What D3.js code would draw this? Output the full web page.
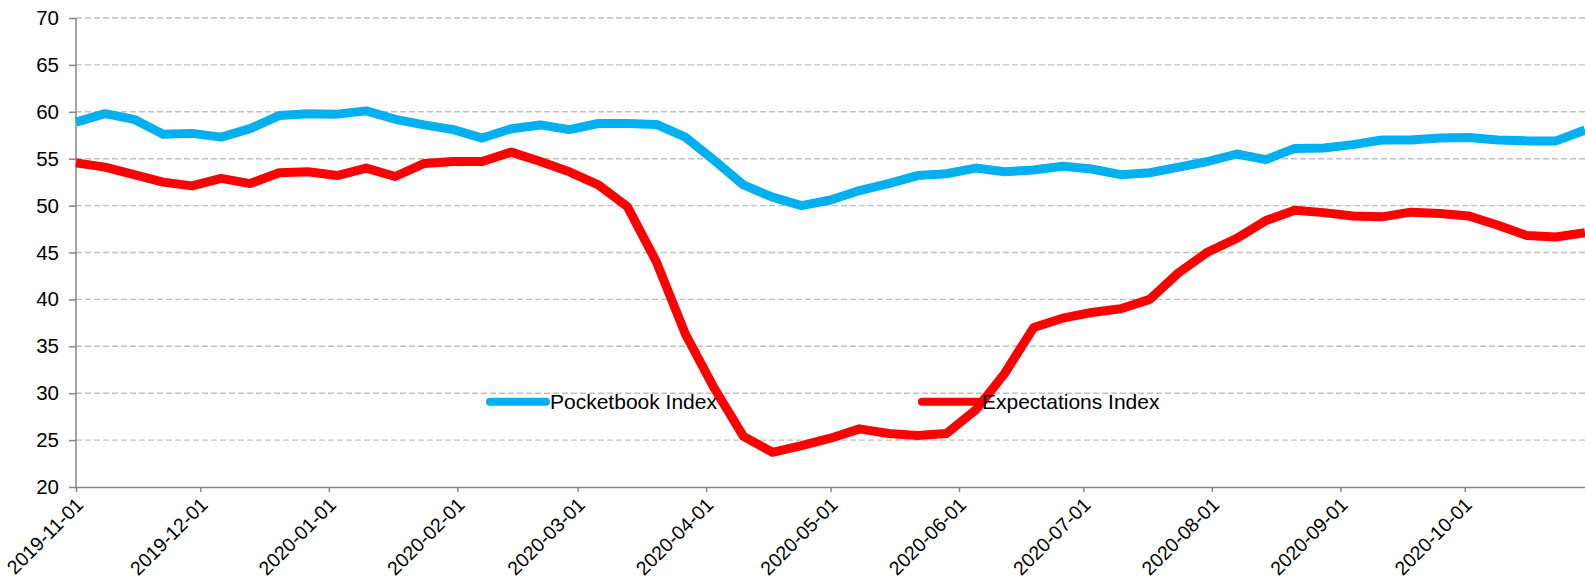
<!DOCTYPE html>
<html>
<head>
<meta charset="utf-8">
<script src="https://cdn.jsdelivr.net/npm/d3@7"></script>
<style>
  html, body { margin: 0; padding: 0; background: #fff; }
  svg { display: block; font-family: "Liberation Sans", Arial, sans-serif; }
</style>
</head>
<body>
<div id="wrapper"></div>
<script>
// weekly survey dates
const dates = [
  "2019-11-01", "2019-11-08", "2019-11-15", "2019-11-22", "2019-11-29",
  "2019-12-06", "2019-12-13", "2019-12-20", "2019-12-27",
  "2020-01-03", "2020-01-10", "2020-01-17", "2020-01-24", "2020-01-31",
  "2020-02-07", "2020-02-14", "2020-02-21", "2020-02-28",
  "2020-03-06", "2020-03-13", "2020-03-20", "2020-03-27",
  "2020-04-03", "2020-04-10", "2020-04-17", "2020-04-24",
  "2020-05-01", "2020-05-08", "2020-05-15", "2020-05-22", "2020-05-29",
  "2020-06-05", "2020-06-12", "2020-06-19", "2020-06-26",
  "2020-07-03", "2020-07-10", "2020-07-17", "2020-07-24", "2020-07-31",
  "2020-08-07", "2020-08-14", "2020-08-21", "2020-08-28",
  "2020-09-04", "2020-09-11", "2020-09-18", "2020-09-25",
  "2020-10-02", "2020-10-09", "2020-10-16", "2020-10-23", "2020-10-30",
];

const pocketbook = [
  58.9, 59.8, 59.2, 57.6, 57.7, 57.3, 58.2, 59.6, 59.8, 59.75,
  60.1, 59.2, 58.6, 58.1, 57.2, 58.2, 58.6, 58.1, 58.75, 58.75,
  58.65, 57.3, 54.8, 52.2, 50.9, 50.0, 50.6, 51.6, 52.35, 53.2,
  53.4, 54.0, 53.6, 53.8, 54.2, 53.9, 53.3, 53.5, 54.1, 54.7,
  55.5, 54.9, 56.1, 56.15, 56.5, 57.0, 57.0, 57.2, 57.25, 57.0,
  56.9, 56.9, 58.05,
];

const expectations = [
  54.55, 54.1, 53.3, 52.5, 52.1, 52.9, 52.35, 53.5, 53.6, 53.2,
  54.0, 53.1, 54.5, 54.7, 54.7, 55.7, 54.7, 53.6, 52.2, 49.9,
  44.0, 36.3, 30.5, 25.4, 23.7, 24.4, 25.2, 26.2, 25.7, 25.5,
  25.7, 28.2, 32.1, 37.0, 38.0, 38.6, 39.0, 40.0, 42.85, 45.05,
  46.5, 48.4, 49.5, 49.25, 48.9, 48.8, 49.3, 49.15, 48.9, 47.9,
  46.8, 46.65, 47.1,
];

const seriesNames = ["Pocketbook Index", "Expectations Index"];
const seriesColors = ["#00b0f0", "#ff0000"];

const xTickLabels = [
  "2019-11-01", "2019-12-01", "2020-01-01", "2020-02-01", "2020-03-01",
  "2020-04-01", "2020-05-01", "2020-06-01", "2020-07-01", "2020-08-01",
  "2020-09-01", "2020-10-01",
];
const yTicks = [20, 25, 30, 35, 40, 45, 50, 55, 60, 65, 70];

const parseDate = d3.timeParse("%Y-%m-%d");

const dimensions = {
  width: 1585,
  height: 579,
  margins: { top: 18, right: 0, bottom: 92, left: 76 },
};
dimensions.boundedWidth =
  dimensions.width - dimensions.margins.left - dimensions.margins.right;
dimensions.boundedHeight =
  dimensions.height - dimensions.margins.top - dimensions.margins.bottom;

const wrapper = d3
  .select("#wrapper")
  .append("svg")
  .attr("width", dimensions.width)
  .attr("height", dimensions.height);

const bounds = wrapper
  .append("g")
  .attr("transform", `translate(${dimensions.margins.left},${dimensions.margins.top})`);

// scales
const xScale = d3
  .scaleTime()
  .domain([parseDate(dates[0]), parseDate(dates[dates.length - 1])])
  .range([0, dimensions.boundedWidth]);

const yScale = d3
  .scaleLinear()
  .domain([20, 70])
  .range([dimensions.boundedHeight, 0]);

// gridlines
bounds
  .append("g")
  .selectAll("line")
  .data(yTicks.slice(1))
  .join("line")
  .attr("x1", 0)
  .attr("x2", dimensions.boundedWidth)
  .attr("y1", (d) => yScale(d))
  .attr("y2", (d) => yScale(d))
  .attr("stroke", "#c0c0c0")
  .attr("stroke-width", 1.4)
  .attr("stroke-dasharray", "6,3");

// axes
const yAxis = bounds
  .append("g")
  .call(d3.axisLeft(yScale).tickValues(yTicks).tickSize(7).tickPadding(10));

const xAxis = bounds
  .append("g")
  .attr("transform", `translate(0,${dimensions.boundedHeight})`)
  .call(
    d3
      .axisBottom(xScale)
      .tickValues(xTickLabels.map(parseDate))
      .tickFormat(d3.timeFormat("%Y-%m-%d"))
      .tickSize(5)
      .tickSizeOuter(0)
  );

[xAxis, yAxis].forEach((ax) => {
  ax.select(".domain").attr("stroke", "#868686").attr("stroke-width", 1.5);
  ax.selectAll(".tick line").attr("stroke", "#868686").attr("stroke-width", 1.5);
  ax.selectAll(".tick text")
    .attr("fill", "#000")
    .style("font-family", '"Liberation Sans", Arial, sans-serif');
});
yAxis.select(".domain").attr("d", `M0,${dimensions.boundedHeight}V0`);
yAxis.selectAll(".tick text").style("font-size", "20.5px");

xAxis
  .selectAll(".tick text")
  .style("font-size", "19.5px")
  .attr("text-anchor", "end")
  .attr("dy", null)
  .attr("y", null)
  .attr("transform", "translate(8,19) rotate(-45)");

// lines
const lineGenerator = (values) =>
  d3
    .line()
    .x((d, i) => xScale(parseDate(dates[i])))
    .y((d) => yScale(d))(values);

[pocketbook, expectations].forEach((values, i) => {
  bounds
    .append("path")
    .attr("d", lineGenerator(values))
    .attr("fill", "none")
    .attr("stroke", seriesColors[i])
    .attr("stroke-width", 9)
    .attr("stroke-linejoin", "round");
});

// legend
const legendX = [414, 846];
const legendY = yScale(29.1);

const legend = bounds
  .append("g")
  .selectAll("g")
  .data(seriesNames)
  .join("g")
  .attr("transform", (d, i) => `translate(${legendX[i]},${legendY})`);

legend
  .append("line")
  .attr("x1", 0)
  .attr("x2", 56)
  .attr("stroke", (d, i) => seriesColors[i])
  .attr("stroke-width", 8)
  .attr("stroke-linecap", "round");

legend
  .append("text")
  .attr("x", 60)
  .attr("dy", "0.35em")
  .style("font-size", "21px")
  .text((d) => d);
</script>
</body>
</html>
